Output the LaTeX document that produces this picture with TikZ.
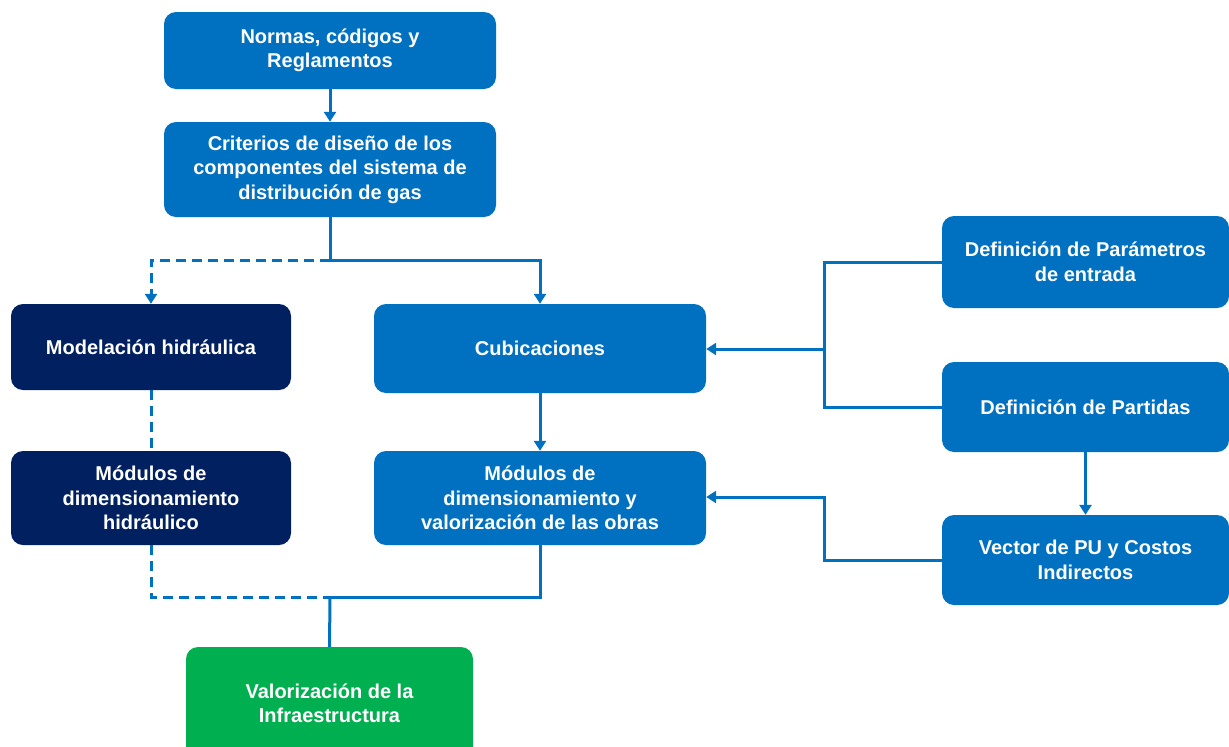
\documentclass[tikz,border=0pt]{standalone}
\usepackage{fontspec}
\setmainfont{Liberation Sans}
\usetikzlibrary{arrows.meta}
\definecolor{mblue}{HTML}{0070C0}
\definecolor{navy}{HTML}{002060}
\definecolor{mgreen}{HTML}{00B050}
\tikzset{
  box/.style={rounded corners=12pt, draw=none, text=white, align=center,
    font=\fontsize{20}{24.5}\selectfont\bfseries, inner sep=0pt},
  bluebox/.style={box, fill=mblue},
  navybox/.style={box, fill=navy},
  greenbox/.style={box, fill=mgreen},
  conn/.style={draw=mblue, line width=3pt},
  arr/.style={conn, -{Triangle[length=10pt,width=12pt]}},
  dashline/.style={dash pattern=on 10pt off 6pt}
}
\newcommand{\bx}[6]{\node[#1, minimum width={#4-#2}, minimum height={#5-#3}] (#6) at ({(#2+#4)/2},{(#3+#5)/2})}
\begin{document}
\begin{tikzpicture}[x=1pt,y=-1pt]
\useasboundingbox (0,0) rectangle (1229,747);
\bx{bluebox}{164}{12}{496}{89}{norm} {Normas, códigos y\\Reglamentos};
\bx{bluebox}{164}{122}{496}{217}{crit} {Criterios de diseño de los\\componentes del sistema de\\distribución de gas};
\bx{navybox}{11}{304}{291}{390}{model} {Modelación hidráulica};
\bx{bluebox}{374}{304}{706}{393}{cubi} {Cubicaciones};
\bx{navybox}{11}{451}{291}{545}{modh} {Módulos de\\dimensionamiento\\hidráulico};
\bx{bluebox}{374}{451}{706}{545}{modv} {Módulos de\\dimensionamiento y\\valorización de las obras};
\bx{greenbox}{186}{647}{473}{760}{valo} {Valorización de la\\Infraestructura};
\bx{bluebox}{942}{216}{1229}{308}{param} {Definición de Parámetros\\de entrada};
\bx{bluebox}{942}{362}{1229}{452}{part} {Definición de Partidas};
\bx{bluebox}{942}{515}{1229}{605}{vect} {Vector de PU y Costos\\Indirectos};
\coordinate (split) at (330,260);
\coordinate (join) at (330,597);
\coordinate (rb) at (824,349);
\coordinate (rb2) at (824,497);
% top
\draw[arr] (norm.south) -- (crit.north);
\draw[conn] (crit.south) -- (split);
\draw[arr, dashline] (split) -| (model.north);
\draw[arr] (split) -| (cubi.north);
\draw[conn, dashline] (model.south) -- (modh.north);
\draw[arr] (cubi.south) -- (modv.north);
\draw[conn, dashline] (modh.south) |- (join);
\draw[conn] (modv.south) |- (join);
\draw[conn] (join) -- (valo.north);
% right
\draw[conn] (param.west) -| (rb) |- (part.west);
\draw[arr] (rb) -- (cubi.east |- rb);
\draw[arr] (part.south) -- (vect.north);
\draw[arr] (vect.west) -| (rb2) -- (modv.east |- rb2);
\end{tikzpicture}
\end{document}
